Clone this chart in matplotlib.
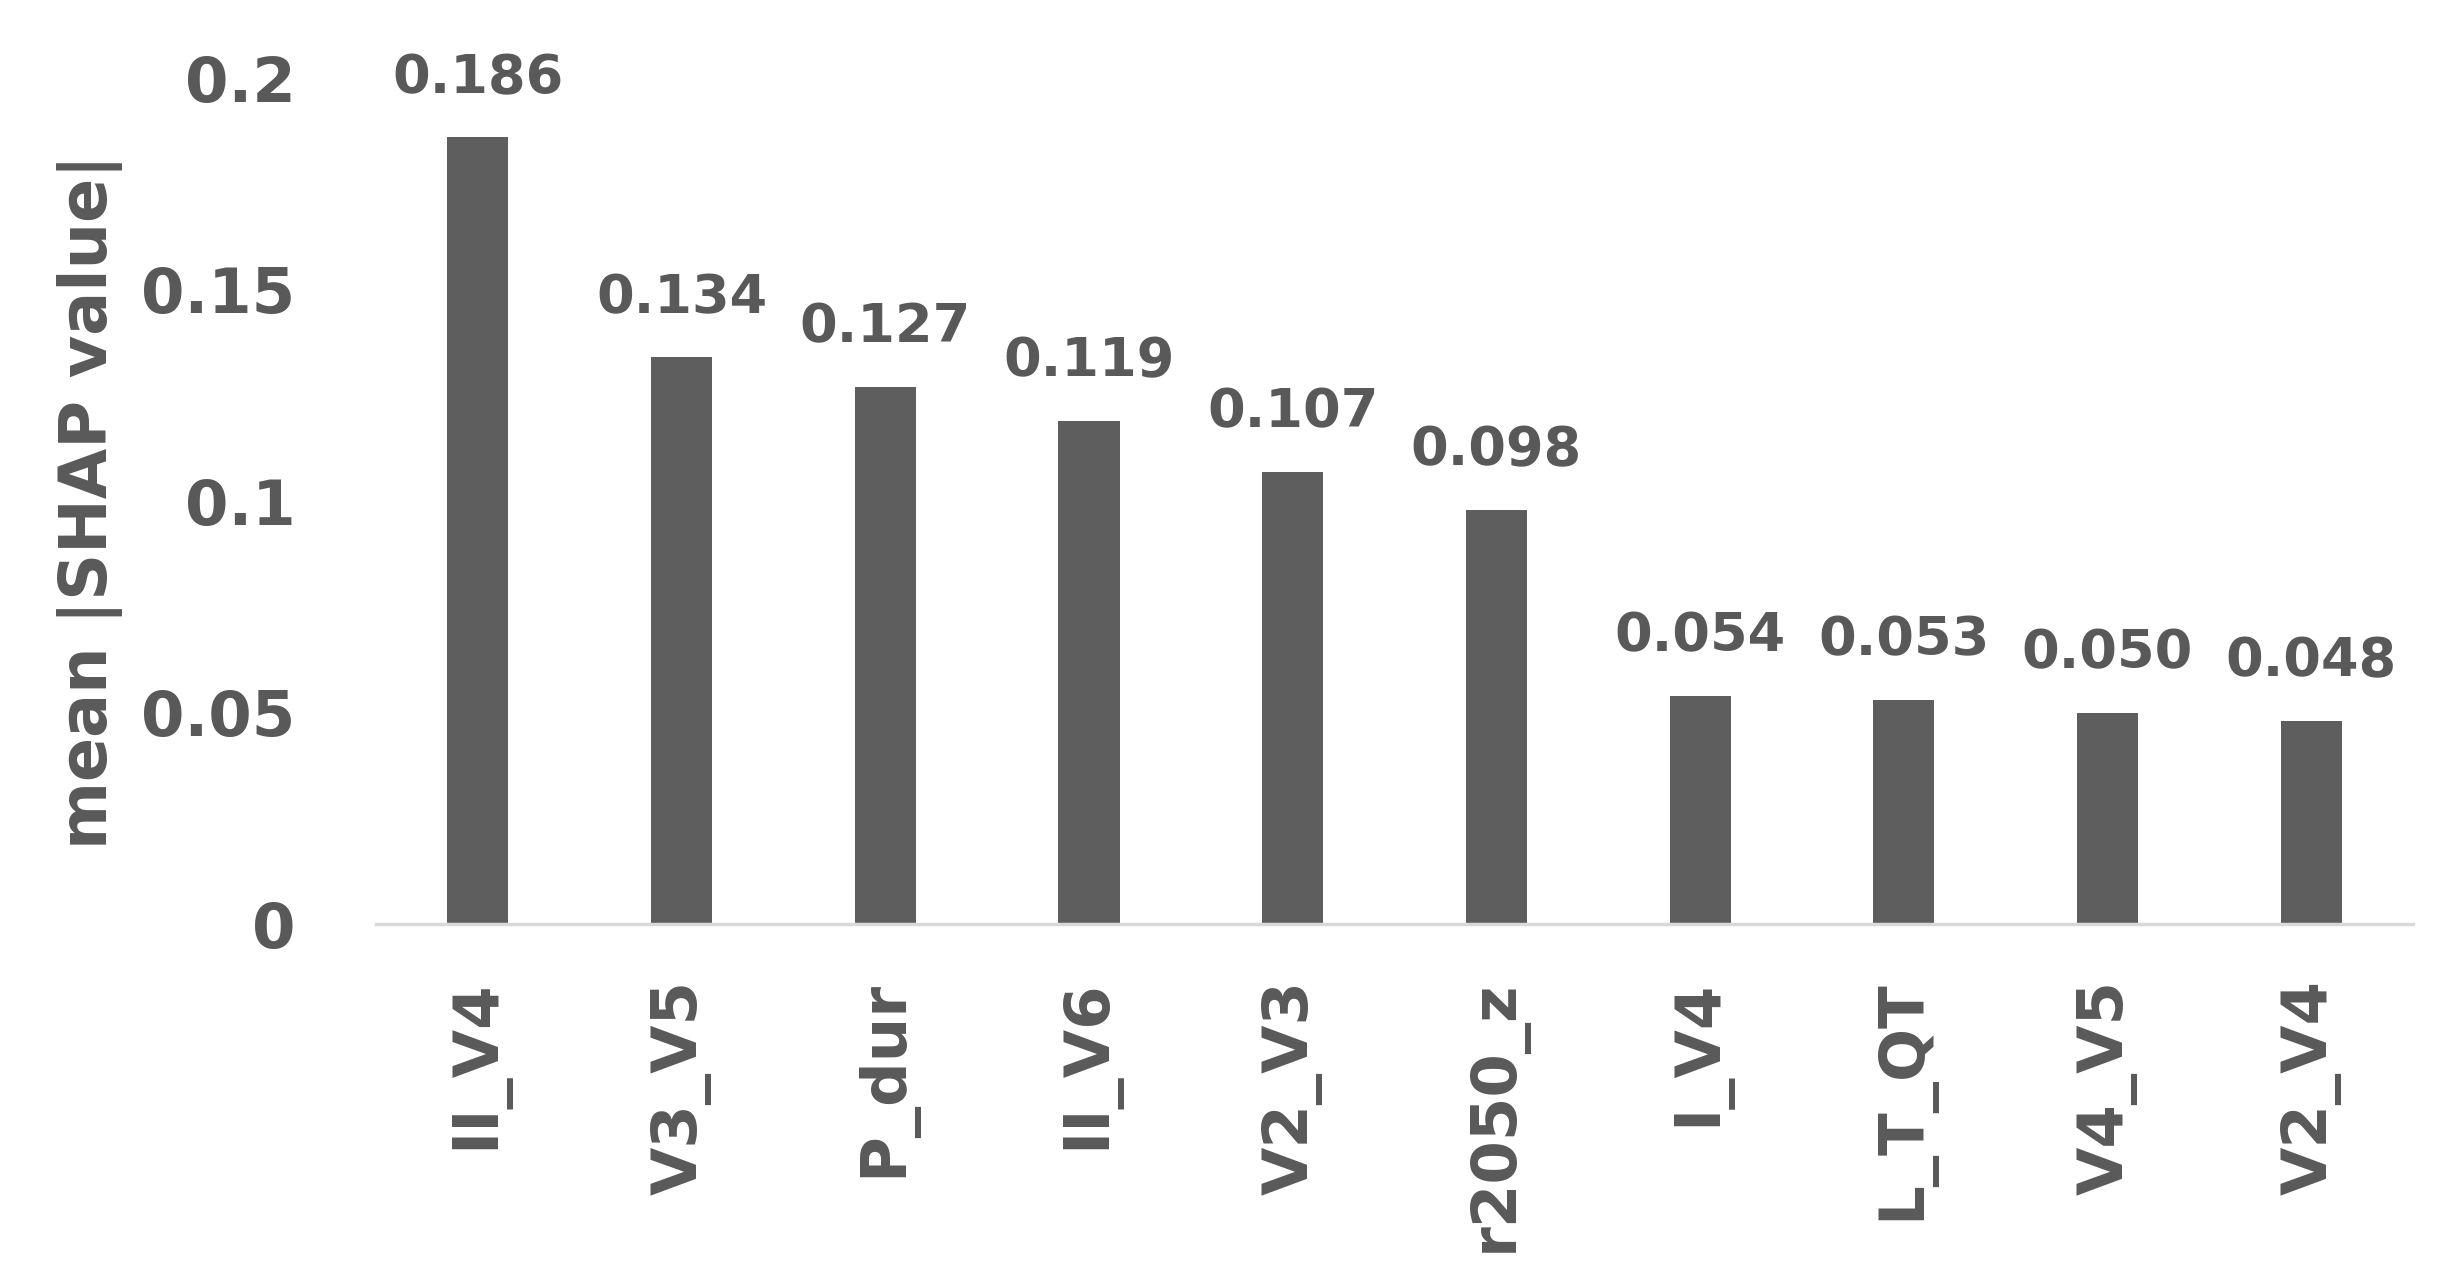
import matplotlib
matplotlib.use("Agg")
import matplotlib.pyplot as plt

# mean |SHAP value| per feature
features = ["II_V4", "V3_V5", "P_dur", "II_V6", "V2_V3",
            "r2050_z", "I_V4", "L_T_QT", "V4_V5", "V2_V4"]
shap_means = [0.186, 0.134, 0.127, 0.119, 0.107,
              0.098, 0.054, 0.053, 0.050, 0.048]
y_ticks = [0, 0.05, 0.1, 0.15, 0.2]
y_tick_labels = ["0", "0.05", "0.1", "0.15", "0.2"]

text_col = "#595959"
bar_col = "#5e5e5e"

plt.rcParams["font.family"] = ["DejaVu Sans"]
plt.rcParams["font.weight"] = "bold"

fig = plt.figure(figsize=(24.56, 12.8), dpi=100)
ax = fig.add_axes([0.1531, 0.278, 0.8294, 0.661])

x = list(range(len(features)))
bars = ax.bar(x, shap_means, width=0.3, color=bar_col, zorder=2)

# value labels above each bar
for xi, v in zip(x, shap_means):
    ax.annotate("%.3f" % v, (xi, v), xytext=(0, 32), textcoords="offset points",
                ha="center", va="baseline", fontsize=39, fontweight="bold",
                color=text_col, annotation_clip=False)

ax.set_xlim(-0.5, len(features) - 0.5)
ax.set_ylim(0, 0.2)
ax.set_yticks(y_ticks)
ax.set_yticklabels(y_tick_labels, fontsize=45, fontweight="bold", color=text_col)
ax.set_xticks(x)
ax.set_xticklabels(features, rotation=90, fontsize=45, fontweight="bold",
                   color=text_col, va="top", ha="center")
ax.tick_params(axis="y", length=0, pad=58)
ax.tick_params(axis="x", length=0, pad=40)

for side in ["top", "right", "left"]:
    ax.spines[side].set_visible(False)
ax.spines["bottom"].set_color("#d9d9d9")
ax.spines["bottom"].set_linewidth(2.5)

fig.text(0.0366, 0.6085, "mean |SHAP value|", rotation=90, ha="center",
         va="center", fontsize=47, fontweight="bold", color=text_col)

fig.savefig("out.png", dpi=100, facecolor="white")
